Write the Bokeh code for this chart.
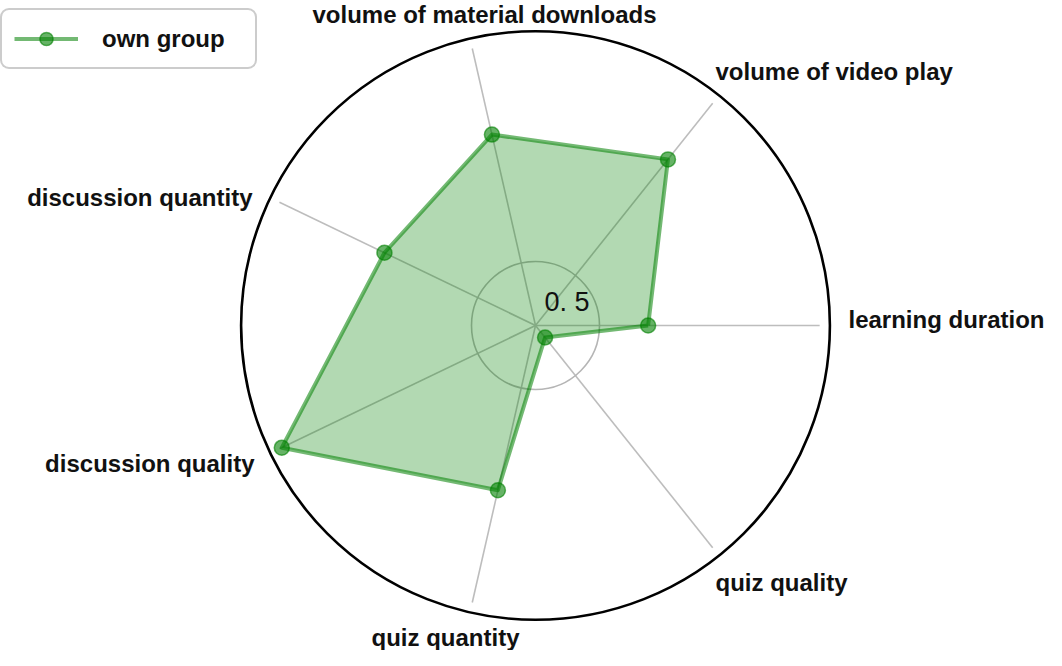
import numpy as np
from bokeh.plotting import figure
from bokeh.models import Range1d, Legend, LegendItem, ColumnDataSource
from bokeh.core.properties import value
from bokeh.embed import file_html
from bokeh.resources import INLINE

# ---------------- data ----------------
categories = ["learning duration", "volume of video play", "volume of material downloads",
              "discussion quantity", "discussion quality", "quiz quantity", "quiz quality"]
own_group = [0.88, 1.66, 1.53, 1.31, 2.20, 1.32, 0.12]
ring_ticks = [0.5]
ring_labels = ["0. 5"]
series_name = "own group"

# ---------------- layout ----------------
W, H = 1046, 650
PX = 128.0                 # pixels per radial unit
CX, CY = 535, 325          # centre of the radar in figure pixels (from top-left)
R_FRAME = 2.30             # outer black circle
R_SPOKE = 2.22             # length of spokes
FONT = "Liberation Sans"
GREEN = "green"

# label anchors: (dx px, dy px (up), align) relative to centre
label_layout = [
    (313, 6, "left"),
    (180, 254, "left"),
    (-51, 311, "center"),
    (-283, 128, "right"),
    (-281, -138, "right"),
    (-90, -312, "center"),
    (180, -257, "left"),
]
ring_label_offset = (9, 24)

n = len(categories)
angles = np.deg2rad(np.arange(n) * 360.0 / n)

p = figure(width=W, height=H, output_backend="svg", toolbar_location=None,
           x_range=Range1d(-CX / PX, (W - CX) / PX),
           y_range=Range1d(-(H - CY) / PX, CY / PX),
           min_border=0, background_fill_color="white", border_fill_color="white")
p.axis.visible = False
p.grid.visible = False
p.outline_line_color = None

# spokes
sx = [[0, R_SPOKE * np.cos(a)] for a in angles]
sy = [[0, R_SPOKE * np.sin(a)] for a in angles]
p.multi_line(sx, sy, line_color="#bdbdbd", line_width=1.6)

# inner ring(s)
for t in ring_ticks:
    p.circle(x=0, y=0, radius=t, fill_color=None, line_color="#b5b5b5", line_width=1.6)

# frame circle
p.circle(x=0, y=0, radius=R_FRAME, fill_color=None, line_color="black", line_width=2.6)

# data polygon
vals = np.array(own_group)
px_ = vals * np.cos(angles)
py_ = vals * np.sin(angles)
src = ColumnDataSource(dict(x=list(px_), y=list(py_), cat=categories))
p.patch(list(px_), list(py_), fill_color=GREEN, fill_alpha=0.3, line_color=None)
line_r = p.line(list(px_) + [px_[0]], list(py_) + [py_[0]], line_color=GREEN,
                line_alpha=0.55, line_width=4, line_join="round")
sc_r = p.scatter("x", "y", source=src, size=15, fill_color=GREEN, fill_alpha=0.6,
                 line_color=GREEN, line_alpha=0.6, line_width=1.5)

# category labels
for cat, (dx, dy, al) in zip(categories, label_layout):
    p.text(x=[dx / PX], y=[dy / PX], text=[cat], text_font=value(FONT),
           text_font_size="24px", text_font_style="bold", text_color="#111111",
           text_align=al, text_baseline="alphabetic")

# ring tick label
for t, lab in zip(ring_ticks, ring_labels):
    p.text(x=[ring_label_offset[0] / PX], y=[ring_label_offset[1] / PX], text=[lab],
           text_font=value(FONT), text_font_size="27px", text_color="#111111",
           text_align="left", text_baseline="alphabetic")

legend = Legend(items=[LegendItem(label=series_name, renderers=[line_r, sc_r])],
                location=(0, H - 69))
legend.padding = 12
legend.margin = 0
legend.spacing = 0
legend.glyph_width = 64
legend.glyph_height = 33
legend.label_standoff = 24
legend.label_width = 141
legend.label_height = 30
legend.label_text_font = FONT
legend.label_text_font_size = "24px"
legend.label_text_font_style = "bold"
legend.label_text_color = "#111111"
legend.border_line_color = "#999999"
legend.border_line_width = 2
legend.background_fill_color = "white"
legend.background_fill_alpha = 1.0
try:
    legend.border_radius = 9
except Exception:
    pass
p.add_layout(legend)

open("out.html", "w").write(file_html(p, INLINE))
